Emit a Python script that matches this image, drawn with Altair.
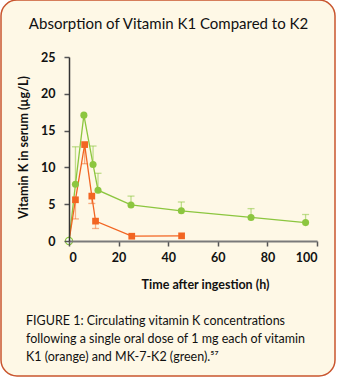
import altair as alt
import pandas as pd

# ---- data ----
green_t = [0, 2.6, 6.0, 9.7, 11.7, 25.0, 45.3, 73.4, 95.4]
green_v = [0, 7.7, 17.1, 10.4, 6.9, 4.9, 4.1, 3.2, 2.5]
green_hi = [None, 12.8, None, 12.9, 9.2, 6.1, 5.3, 4.4, 3.6]

orange_t = [0, 2.6, 6.3, 9.2, 10.7, 25.3, 45.4]
orange_v = [0, 5.6, 13.1, 6.1, 2.7, 0.65, 0.7]
orange_lo = [None, 3.0, 10.5, 5.1, 1.7, None, None]

x_ticks = [0, 20, 40, 60, 80, 100]
y_ticks = [0, 5, 10, 15, 20, 25]

title_text = "Absorption of Vitamin K1 Compared to K2"
caption_lines = [
    "FIGURE 1: Circulating vitamin K concentrations",
    "following a single oral dose of 1 mg each of vitamin",
    "K1 (orange) and MK-7-K2 (green).\u2075\u2077",
]

GREEN = "#8CC63F"
ORANGE = "#F26522"
CREAM = "#FEF8E6"
BORDER = "#C9552E"
COND = "Lato"
BODY = "Lato, Open Sans, sans-serif"

g = pd.DataFrame({"t": green_t, "v": green_v, "hi": green_hi})
o = pd.DataFrame({"t": orange_t, "v": orange_v, "lo": orange_lo})
g_err = g.dropna(subset=["hi"])
o_err = o.dropna(subset=["lo"])

xs = alt.Scale(domain=[0, 100], nice=False)
ys = alt.Scale(domain=[0, 25], nice=False)

x_axis = alt.Axis(
    values=x_ticks, title="Time after ingestion (h)", grid=False, zindex=1,
    labelOverlap=False,
    domainColor="#7a7a7a", domainWidth=2, tickColor="#555", tickSize=5, tickWidth=1.5,
    labelFont=COND, labelFontWeight="bold", labelFontSize=12.5, labelColor="#111",
    labelPadding=5, titleFont=COND, titleFontWeight="bold", titleFontSize=12.5,
    titleColor="#111", titlePadding=15, titleX=136)
y_axis = alt.Axis(
    values=y_ticks, title="Vitamin K in serum (\u00b5g/L)", grid=False, zindex=1,
    labelOverlap=False,
    domainColor="#333", domainWidth=1.5, tickColor="#555", tickSize=5, tickWidth=1.5,
    labelFont=COND, labelFontWeight="bold", labelFontSize=12.5, labelColor="#111",
    labelPadding=9, titleFont=COND, titleFontWeight="bold", titleFontSize=12.5,
    titleColor="#111", titleX=-39, titleY=90)


def X(field):
    return alt.X(field, scale=xs, axis=x_axis)


def Y(field):
    return alt.Y(field, scale=ys, axis=y_axis)


frame = alt.Chart(pd.DataFrame({"a": [0]})).mark_rect(
    fill=CREAM, stroke=BORDER, strokeWidth=1.5, cornerRadius=16
).encode(x=alt.value(-68), x2=alt.value(266), y=alt.value(-57), y2=alt.value(319))

g_line = alt.Chart(g).mark_line(color=GREEN, strokeWidth=1.3).encode(x=X("t:Q"), y=Y("v:Q"))
o_line = alt.Chart(o).mark_line(color=ORANGE, strokeWidth=1.3).encode(x=X("t:Q"), y=Y("v:Q"))

g_rule = alt.Chart(g_err).mark_rule(color=GREEN, opacity=0.55, strokeWidth=1.3).encode(
    x=X("t:Q"), y=Y("v:Q"), y2="hi:Q")
g_cap = alt.Chart(g_err).mark_tick(color=GREEN, opacity=0.55, orient="horizontal",
                                   size=7, thickness=1.3).encode(x=X("t:Q"), y=Y("hi:Q"))
o_rule = alt.Chart(o_err).mark_rule(color=ORANGE, opacity=0.5, strokeWidth=1.3).encode(
    x=X("t:Q"), y=Y("v:Q"), y2="lo:Q")
o_cap = alt.Chart(o_err).mark_tick(color=ORANGE, opacity=0.5, orient="horizontal",
                                   size=7, thickness=1.3).encode(x=X("t:Q"), y=Y("lo:Q"))

o_pts = alt.Chart(o.iloc[1:]).mark_square(color=ORANGE, opacity=1, size=45).encode(
    x=X("t:Q"), y=Y("v:Q"))
g_pts = alt.Chart(g.iloc[1:]).mark_circle(color=GREEN, opacity=1, size=50).encode(
    x=X("t:Q"), y=Y("v:Q"))
g_open = alt.Chart(g.iloc[:1]).mark_point(shape="circle", fill="white", filled=True,
                                           stroke=GREEN, strokeWidth=1.3, opacity=1,
                                           size=50).encode(x=X("t:Q"), y=Y("v:Q"))


def text_layer(s, x, y, size, align):
    return alt.Chart(pd.DataFrame({"s": [s]})).mark_text(
        font=BODY, fontSize=size, color="#111", align=align, baseline="alphabetic"
    ).encode(text="s:N", x=alt.value(x), y=alt.value(y))


title = text_layer(title_text, 99.5, -28, 15, "center")
cap_layers = [text_layer(s, -43, 268 + 18 * i, 12.5, "left")
              for i, s in enumerate(caption_lines)]

chart = alt.layer(
    frame, g_line, o_line, g_rule, g_cap, o_rule, o_cap, o_pts, g_pts, g_open,
    title, *cap_layers
).properties(
    width=248, height=184,
    autosize=alt.AutoSizeParams(type="none"),
    padding={"left": 69, "top": 57, "right": 20, "bottom": 137},
    background="white",
).configure_view(stroke=None)

chart.save("out.html", embed_options={"renderer": "svg", "actions": False})
